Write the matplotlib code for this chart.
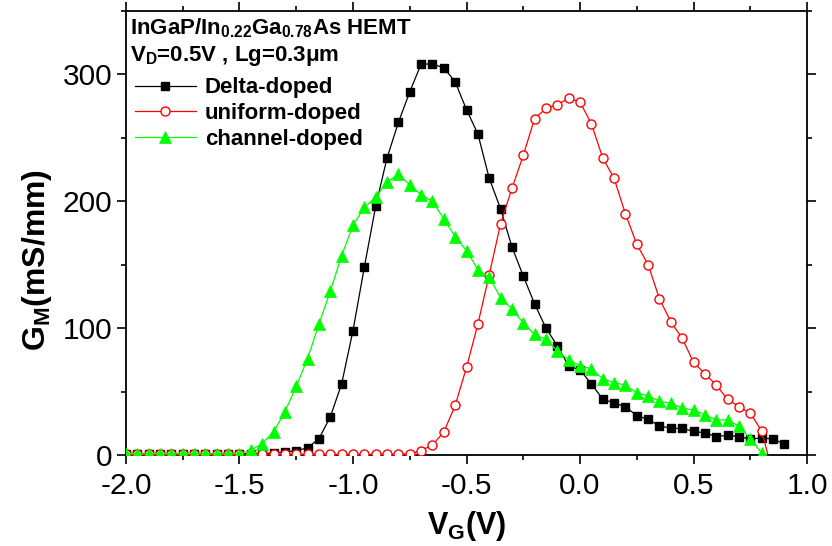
import numpy as np
import matplotlib
matplotlib.use('Agg')
import matplotlib.pyplot as plt
from matplotlib.ticker import MultipleLocator

plt.rcParams['font.family'] = ['Liberation Sans', 'DejaVu Sans']
plt.rcParams['axes.unicode_minus'] = False
plt.rcParams['mathtext.fontset'] = 'custom'
plt.rcParams['mathtext.rm'] = 'Liberation Sans'
plt.rcParams['mathtext.bf'] = 'Liberation Sans:bold'
plt.rcParams['mathtext.it'] = 'Liberation Sans:italic'

# gm (mS/mm), V_G from -2.0 V in 0.05 V steps
gm_delta = [1, 1, 1, 1, 1, 1, 1, 1, 1, 1, 1, 1,
            1.2, 1.6, 2.4, 3.4, 5.7, 12.8, 30, 56, 98, 148,
            196, 234, 262, 286, 308, 308, 305, 294, 272, 253,
            218, 194, 164, 141, 119, 100, 86, 70, 67, 56,
            44, 41, 38, 31, 28, 23, 21, 21, 18.5, 17.5,
            14.5, 15.5, 14.5, 12.5, 13.5, 12.5, 8.7]
gm_uniform = [0.5] * 25 + [
            1, 3.4, 8, 18, 39, 69, 103, 142, 182, 210,
            236, 265, 273, 276, 281, 278, 261, 234, 218, 190,
            166, 150, 123, 105, 92, 73, 64, 55, 44, 38,
            33, 19, -15]
gm_channel = [1] * 11 + [
            3.7, 9, 18, 34, 54, 76, 103, 129, 157, 181,
            195, 203, 215, 221, 213, 205, 200, 186, 172, 161,
            146, 140, 124, 115, 104, 95, 91, 82, 75, 70,
            68, 60, 57, 55, 49, 46.5, 42.5, 40.7, 37, 35.4,
            31.7, 27.6, 27.6, 22.8, 12.6, 1.8]
xticklabels = ['-2.0', '-1.5', '-1.0', '-0.5', '0.0', '0.5', '1.0']

def vg_for(vals):
    return -2.0 + 0.05 * np.arange(len(vals))

fig = plt.figure(figsize=(8.32, 5.46), dpi=100)
ax = fig.add_axes([0.1514, 0.1667, 0.8186, 0.8137])

l1, = ax.plot(vg_for(gm_delta), gm_delta, '-', color='black', lw=0.9,
              marker='s', ms=6, mfc='black', mec='black', label='Delta-doped', zorder=3)
l2, = ax.plot(vg_for(gm_uniform), gm_uniform, '-', color='red', lw=0.9,
              marker='o', ms=6.5, mfc='white', mec='red', mew=1.0, label='uniform-doped', zorder=4)
l3, = ax.plot(vg_for(gm_channel), gm_channel, '-', color='#00ff00', lw=0.9,
              marker='^', ms=8.5, mfc='#00ff00', mec='#00ff00', mew=0.5, label='channel-doped', zorder=5)

ax.set_xlim(-2.0, 1.0)
ax.set_ylim(0, 350)
ax.xaxis.set_minor_locator(MultipleLocator(0.25))
ax.yaxis.set_major_locator(MultipleLocator(100))
ax.yaxis.set_minor_locator(MultipleLocator(50))
ax.set_xticks([float(t) for t in xticklabels])
ax.set_xticklabels(xticklabels)
ax.tick_params(which='both', direction='out', top=True, right=True, width=1.2, labelsize=21.5)
ax.tick_params(which='major', length=6.5)
ax.tick_params(which='minor', length=3.5)
ax.tick_params(axis='x', pad=6)
for s in ax.spines.values():
    s.set_linewidth(1.3)

ax.set_xlabel(r'$\mathbf{V_G}$(V)', fontsize=22, fontweight='bold', labelpad=6)
ax.set_ylabel(r'$\mathbf{G_M}$(mS/mm)', fontsize=23, fontweight='bold')
ax.yaxis.set_label_coords(-0.105, 0.44)

ax.text(0.006, 0.988, r'InGaP/In$_{\mathbf{0.22}}$Ga$_{\mathbf{0.78}}$As HEMT',
        transform=ax.transAxes, fontsize=16, fontweight='bold', va='top', ha='left')
ax.text(0.006, 0.925, r'V$_{\mathbf{D}}$=0.5V , Lg=0.3$\mathbf{\mu}$m',
        transform=ax.transAxes, fontsize=16, fontweight='bold', va='top', ha='left')

leg = ax.legend(handles=[l1, l2, l3], loc='upper left', bbox_to_anchor=(0.0, 0.87),
                frameon=False, prop={'weight': 'bold', 'size': 16},
                handlelength=2.75, handletextpad=0.4, labelspacing=0.22, borderaxespad=0)

fig.savefig('out.png', dpi=100)
